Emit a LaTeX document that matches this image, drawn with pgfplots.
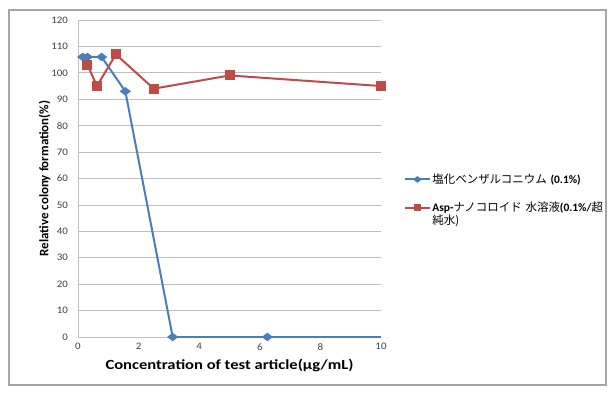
\documentclass[border=0pt]{standalone}
\usepackage{fontspec}
\setmainfont{Carlito}
\newfontfamily\xlabfont[FakeStretch=1.19]{Carlito}
\newfontfamily\tickfont[FakeStretch=1.1]{Carlito}
\newfontfamily\cjk{Noto Sans CJK JP}
\usepackage{pgfplots}
\pgfplotsset{compat=1.18}
\definecolor{exblue}{HTML}{4A7EBB}
\definecolor{exred}{HTML}{BE4B48}
\definecolor{gridgray}{HTML}{BFBFBF}
\definecolor{framegray}{HTML}{A6A6A6}
\begin{document}
\begin{tikzpicture}[x=1bp,y=1bp]
\path[use as bounding box] (0,0) rectangle (615,395);
\draw[framegray,line width=1.2bp] (9,10) rectangle (606,385);
\begin{axis}[
  at={(78bp,58bp)}, anchor=south west,
  scale only axis, width=303bp, height=317bp,
  xmin=0, xmax=10, ymin=0, ymax=120,
  xtick={0,2,...,10}, ytick={0,10,...,120},
  axis x line*=bottom, axis y line*=left,
  axis line style={gridgray, line width=0.8bp},
  ymajorgrids, grid style={gridgray, line width=0.8bp},
  tick style={draw=none},
  tick label style={font=\tickfont\fontsize{10}{12}\selectfont, text=black!75},
  yticklabel style={xshift=-6.5bp},
  xticklabel style={yshift=-3bp},
  /pgf/number format/assume math mode=true,
  xlabel={\bfseries Concentration of test article(µg/mL)},
  ylabel={\bfseries Relative colony formation(\%)},
  xlabel style={font=\xlabfont\fontsize{14}{16}\selectfont, yshift=-2bp},
  ylabel style={font=\fontsize{13}{15}\selectfont, yshift=-6bp},
  clip=true,
  legend style={at={(1.075,0.52)}, anchor=north west, draw=none, fill=none,
    inner sep=0pt,
    font=\fontsize{11.5}{13}\selectfont, row sep=14bp,
    nodes={align=left, text width=175bp, inner sep=1.5bp}},
  legend cell align=left,
  legend image code/.code={
    \draw[#1, every mark/.append style={scale=0.7}, mark repeat=2, mark phase=2] plot coordinates {(0bp,0bp) (12.5bp,0bp) (25bp,0bp)};
  },
]
\addplot[exblue, line width=2bp, mark=diamond*, mark size=4bp, mark options={fill=exblue, rotate=90}]
 coordinates {(0.156,106) (0.3125,106) (0.78,106) (1.5625,93) (3.125,0) (6.25,0) (12.5,0)};
\addlegendentry{{\cjk 塩化ベンザルコニウム} \textbf{(0.1\%)}}
\addplot[exred, line width=2bp, mark=square*, mark size=4bp, mark options={fill=exred}]
 coordinates {(0.3125,103) (0.625,95) (1.25,107) (2.5,94) (5,99) (10,95)};
\addlegendentry{\textbf{Asp-}{\cjk ナノコロイド 水溶液}\textbf{(0.1\%/}{\cjk 超}\\{\cjk 純水)}}
\end{axis}
\end{tikzpicture}
\end{document}
